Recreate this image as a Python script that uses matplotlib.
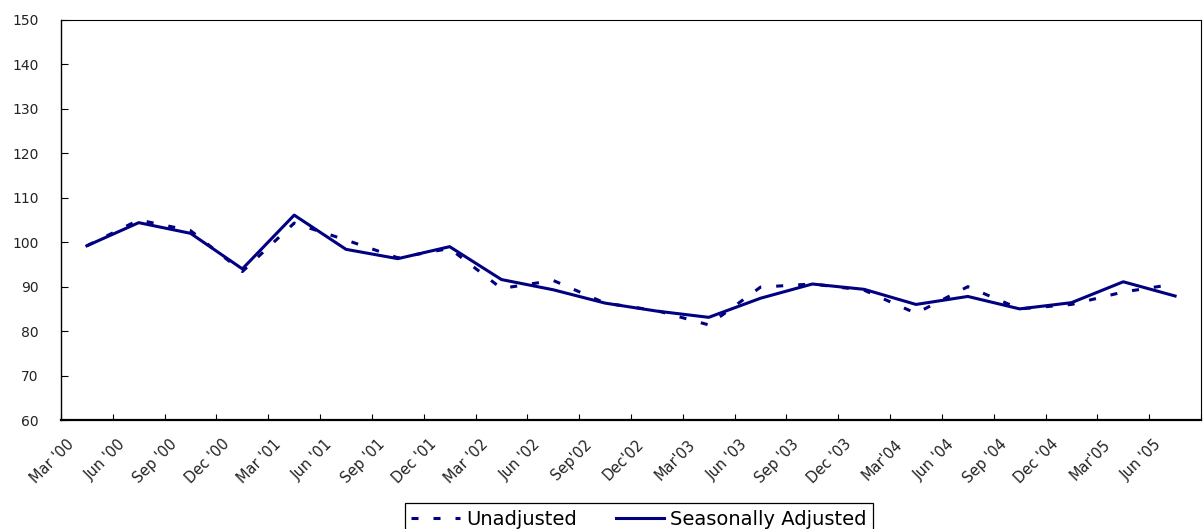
import matplotlib
matplotlib.use("Agg")
import matplotlib.pyplot as plt
import numpy as np

quarters = ["Mar '00", "Jun '00", "Sep '00", "Dec '00", "Mar '01", "Jun '01", "Sep '01",
            "Dec '01", "Mar '02", "Jun '02", "Sep'02", "Dec'02", "Mar'03", "Jun '03",
            "Sep '03", "Dec '03", "Mar'04", "Jun '04", "Sep '04", "Dec '04", "Mar'05", "Jun '05"]
unadjusted = [99.2, 105.0, 102.6, 93.4, 104.3, 100.5, 96.5, 98.6, 89.6, 91.4, 86.3,
              84.6, 81.4, 89.9, 90.6, 89.2, 84.0, 90.0, 85.0, 86.0, 88.8, 90.6]
seasonally_adjusted = [99.2, 104.4, 102.0, 94.0, 106.1, 98.4, 96.3, 99.0, 91.6, 89.3, 86.3,
                       84.5, 83.1, 87.4, 90.6, 89.4, 86.0, 87.8, 85.0, 86.4, 91.1, 87.9]
y_ticks = list(range(60, 151, 10))

navy = "#000080"
W, H = 1204, 529
fig = plt.figure(figsize=(W / 100, H / 100), dpi=100)
ax = fig.add_axes([61 / W, 1 - 420 / H, 1140 / W, 400 / H])

x = np.arange(len(quarters))
l1, = ax.plot(x, unadjusted, color=navy, lw=2.2, dashes=(2.3, 4.9),
              solid_capstyle="butt", dash_capstyle="butt", label="Unadjusted")
l2, = ax.plot(x, seasonally_adjusted, color=navy, lw=2.2, label="Seasonally Adjusted")

ax.set_xlim(-0.5, len(quarters) - 0.5)
ax.set_ylim(60, 150)
ax.set_yticks(y_ticks)
ax.set_yticklabels([str(v) for v in y_ticks], fontsize=10, color="#222222")

# category boundaries as tick marks
ax.set_xticks(np.arange(-0.5, len(quarters) + 0.5, 1.0))
ax.set_xticklabels([])
ax.set_xticks(x - 0.5 + 5 / 51.8, minor=True)
ax.set_xticklabels(quarters, minor=True, rotation=45, ha="right",
                   rotation_mode="anchor", fontsize=10.5, color="#222222")
ax.tick_params(axis="x", which="major", direction="in", length=4, width=0.8, color="black")
ax.tick_params(axis="x", which="minor", length=0, pad=12)
ax.tick_params(axis="y", direction="in", length=5, width=0.8, pad=16)

for s in ["top", "right"]:
    ax.spines[s].set_linewidth(0.8)
    ax.spines[s].set_color("black")
ax.spines["left"].set_linewidth(1.0)
ax.spines["bottom"].set_linewidth(1.6)

leg = fig.legend(handles=[l1, l2], loc="upper center", ncol=2,
                 bbox_to_anchor=(639 / W, 1 - 503 / H), frameon=True, fancybox=False,
                 shadow=False, framealpha=1, edgecolor="black", fontsize=14,
                 handlelength=2.5, handletextpad=0.3, columnspacing=2.0,
                 borderpad=0.35, borderaxespad=0)
leg.get_frame().set_linewidth(0.9)

fig.savefig("out.png", dpi=100)
